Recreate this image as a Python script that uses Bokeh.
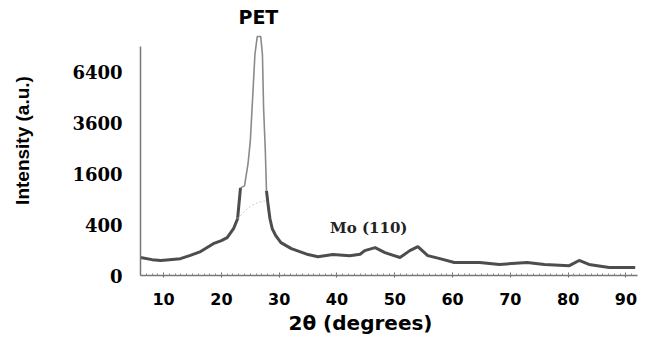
import numpy as np
from bokeh.plotting import figure
from bokeh.models import Range1d, FixedTicker, Title
from bokeh.core.properties import value
from bokeh.embed import file_html
from bokeh.resources import INLINE

# 2-theta (degrees) and intensity (a.u.)
two_theta = [6.0, 8.0, 9.5, 11.0, 12.9, 14.5, 16.4, 18.6, 20.0, 21.0, 22.1, 22.8,
             23.3, 24.0, 24.6, 25.0, 25.4, 25.8, 26.2, 26.8, 27.1, 27.3, 27.6,
             27.8, 28.1, 28.4, 28.8, 29.4, 30.3, 32.1, 35.0, 36.7, 39.3, 42.2,
             44.0, 44.8, 46.6, 48.3, 50.9, 52.6, 54.0, 55.7, 57.8, 60.3, 64.7,
             68.1, 72.9, 75.9, 80.2, 81.9, 83.6, 87.1, 91.6]
intensity = [50, 39, 35, 39, 44, 61, 89, 157, 188, 222, 339, 499,
             1190, 1245, 1928, 2800, 4870, 7570, 8850, 8850, 7570, 4340, 2400,
             1110, 753, 499, 339, 246, 167, 112, 68, 55, 68, 61,
             70, 96, 120, 81, 50, 96, 129, 61, 44, 26, 26,
             19, 26, 19, 15, 35, 19, 10, 10]

# faint amorphous hump under the PET peak
hump_theta = [22.8, 24.0, 25.2, 26.4, 27.6]
hump_intensity = [499, 640, 760, 830, 864]

y_ticks = [0, 400, 1600, 3600, 6400]
x_ticks = [10, 20, 30, 40, 50, 60, 70, 80, 90]

tt = np.array(two_theta)
s = np.sqrt(np.array(intensity, dtype=float))
peak = (tt >= 23.3) & (tt <= 27.8)
left = tt <= 23.3
right = tt >= 27.8

p = figure(width=647, height=337, output_backend="svg", toolbar_location=None,
           x_range=Range1d(6, 92), y_range=Range1d(0, 106.3),
           min_border_left=140, min_border_right=10, min_border_top=5,
           min_border_bottom=62)
p.outline_line_color = None
p.xgrid.visible = False
p.ygrid.visible = False
p.background_fill_color = "white"

p.line(tt[left], s[left], line_color="#4d4d4d", line_width=3)
p.line(tt[right], s[right], line_color="#4d4d4d", line_width=3)
p.line(tt[peak], s[peak], line_color="#8a8a8a", line_width=1.6)
p.line(np.array(hump_theta), np.sqrt(np.array(hump_intensity, dtype=float)),
       line_color="#cccccc", line_width=1, line_dash="2 2")

p.text(x=[26.4], y=[101.6], text=["PET"], text_align="center", text_baseline="middle",
       text_font=value("DejaVu Sans"), text_font_style="bold", text_font_size="19px",
       text_color="black")
p.text(x=[45.5], y=[18.6], text=["Mo (110)"], text_align="center", text_baseline="middle",
       text_font=value("DejaVu Serif"), text_font_style="bold", text_font_size="15px",
       text_color="#222222")

# y axis (square-root scale)
ya = p.yaxis[0]
ya.ticker = FixedTicker(ticks=[float(np.sqrt(v)) for v in y_ticks])
ya.major_label_overrides = {float(np.sqrt(v)): str(v) for v in y_ticks}
ya.bounds = (0, 90.2)
ya.axis_line_color = "#777777"
ya.axis_line_width = 1.5
ya.major_tick_out = 0
ya.major_tick_in = 0
ya.minor_tick_out = 0
ya.minor_tick_in = 0
ya.major_label_standoff = 18
ya.major_label_text_font = "DejaVu Serif"
ya.major_label_text_font_style = "bold"
ya.major_label_text_font_size = "18px"
ya.major_label_text_color = "black"
ya.axis_label = "Intensity (a.u.)"
ya.axis_label_text_font = "Liberation Sans"
ya.axis_label_text_font_style = "bold"
ya.axis_label_text_font_size = "19px"
ya.axis_label_text_color = "black"
ya.axis_label_standoff = 36

# x axis
xa = p.xaxis[0]
xa.ticker = FixedTicker(ticks=x_ticks, minor_ticks=list(np.arange(6, 92, 1.0)))
xa.axis_line_color = "#777777"
xa.axis_line_width = 1.5
xa.major_tick_in = 3
xa.major_tick_out = 2
xa.minor_tick_in = 2
xa.minor_tick_out = 0
xa.major_tick_line_color = "#666666"
xa.minor_tick_line_color = "#888888"
xa.major_label_standoff = 15
xa.major_label_text_font = "DejaVu Sans"
xa.major_label_text_font_style = "bold"
xa.major_label_text_font_size = "16px"
xa.major_label_text_color = "black"

# x axis title, placed slightly left of the frame centre as in the original
p.add_layout(Title(text="2θ (degrees)", align="left", offset=148, standoff=2,
                   text_font="DejaVu Sans", text_font_style="bold",
                   text_font_size="20px", text_color="black"), "below")

open("out.html", "w").write(file_html(p, INLINE))
